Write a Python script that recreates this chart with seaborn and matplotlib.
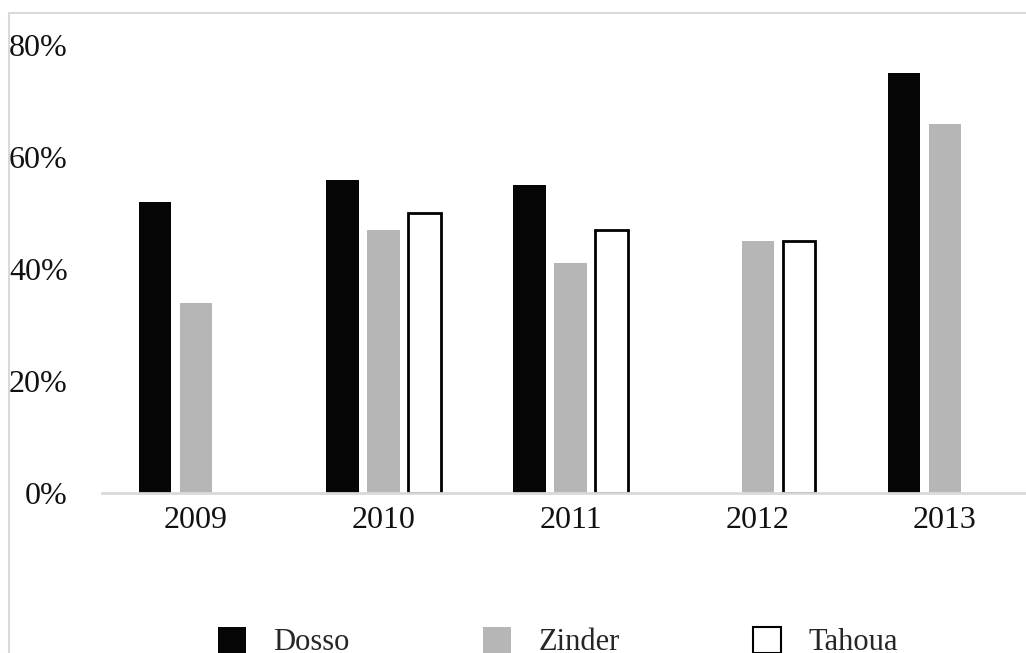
import matplotlib
matplotlib.use("Agg")
import matplotlib.pyplot as plt
from matplotlib.patches import Patch, Rectangle
from matplotlib.ticker import FuncFormatter
import seaborn as sns
import pandas as pd

years = ["2009", "2010", "2011", "2012", "2013"]
regions = ["Dosso", "Zinder", "Tahoua"]
dosso = [0.52, 0.56, 0.55, None, 0.75]
zinder = [0.34, 0.47, 0.41, 0.45, 0.66]
tahoua = [None, 0.50, 0.47, 0.45, None]
colors = ["#050505", "#b5b6b5", "#ffffff"]

rows = []
for reg, vals in zip(regions, [dosso, zinder, tahoua]):
    for y, v in zip(years, vals):
        if v is not None:
            rows.append({"year": y, "region": reg, "value": v})
df = pd.DataFrame(rows)

sns.set_theme(style="white")
plt.rcParams["font.family"] = ["Liberation Serif", "DejaVu Serif"]

W, H = 1026, 653
FS = 23
LFS = 22
fig = plt.figure(figsize=(W / 100, H / 100), dpi=100)
ax = fig.add_axes([102.4 / W, 1 - 492.5 / H, (5 * 187.25) / W, (492.5 - 45.5) / H])

sns.barplot(data=df, x="year", y="value", hue="region", order=years,
            hue_order=regions, palette=colors, width=0.657, gap=0.207,
            legend=False, ax=ax, saturation=1)

for cont, reg in zip(ax.containers, regions):
    for p in cont.patches:
        if reg == "Tahoua":
            p.set_edgecolor("black")
            p.set_linewidth(2)
        else:
            p.set_edgecolor("none")

ax.set_xlim(-0.5, 4.5)
ax.set_ylim(0, 0.8)
ax.set_yticks([0, 0.2, 0.4, 0.6, 0.8])
ax.yaxis.set_major_formatter(FuncFormatter(lambda v, p: f"{round(v * 100)}%"))
ax.set_xlabel("")
ax.set_ylabel("")
for s in ["top", "right", "left"]:
    ax.spines[s].set_visible(False)
ax.spines["bottom"].set_color("#d9d9d9")
ax.spines["bottom"].set_linewidth(2)
ax.tick_params(axis="x", length=0, pad=10, labelsize=FS, colors="#111111")
ax.tick_params(axis="y", length=0, pad=25, labelsize=FS, colors="#111111")

handles = [Patch(facecolor=c, edgecolor=("black" if r == "Tahoua" else "none"),
                 linewidth=(1.5 if r == "Tahoua" else 0), label=r)
           for c, r in zip(colors, regions)]
fig.legend(handles=handles, loc="center left", bbox_to_anchor=(218 / W, 1 - 642 / H),
           ncol=3, frameon=False, fontsize=LFS, handlelength=0.92, handleheight=0.92,
           handletextpad=0.88, columnspacing=4.38, borderpad=0, borderaxespad=0)

fig.patches.append(Rectangle((9 / W, -0.1), 1.2, 1 - 13 / H + 0.1, transform=fig.transFigure,
                             fill=False, edgecolor="#d9d9d9", linewidth=1.5))

fig.savefig("out.png", dpi=100)
